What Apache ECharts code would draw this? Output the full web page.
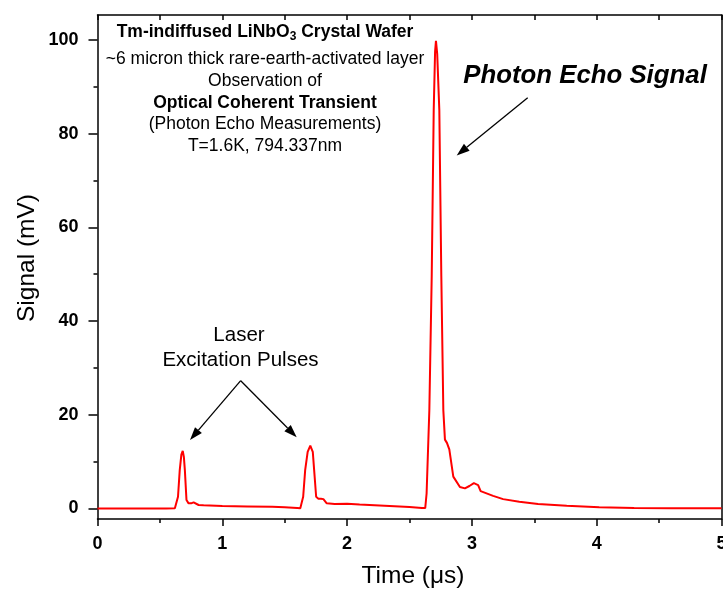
<!DOCTYPE html>
<html>
<head>
<meta charset="utf-8">
<script src="https://cdn.jsdelivr.net/npm/echarts@6/dist/echarts.min.js"></script>
<style>
html,body{margin:0;padding:0;background:#fff;}
#chart{width:723px;height:592px;}
</style>
</head>
<body>
<div id="chart"></div>
<script>
// Time (µs) and Signal (mV)
var timeUs = [
  0.00, 0.20, 0.40, 0.55, 0.62, 0.632, 0.645, 0.659, 0.672, 0.683, 0.692, 0.700, 0.713, 0.730, 0.750, 0.770, 0.786, 0.810, 0.850, 0.950, 1.000, 1.200, 1.400, 1.500, 1.600, 1.625,
  1.632, 1.648, 1.664, 1.684, 1.705, 1.725, 1.736, 1.752, 1.770, 1.790, 1.810, 1.837, 1.900, 2.000, 2.100, 2.300, 2.500, 2.600, 2.626,
  2.637, 2.659, 2.678, 2.694, 2.705, 2.712, 2.722, 2.739, 2.755, 2.771, 2.784, 2.800, 2.819, 2.851, 2.904, 2.944, 2.980, 3.016, 3.050, 3.070, 3.170, 3.250, 3.380, 3.530, 3.760, 4.020, 4.300, 4.600, 5.000
];
var signalMv = [
  0.0, 0.0, 0.0, 0.0, 0.05, 0.2, 2.5, 8.2, 11.5, 12.3, 11.0, 8.2, 1.8, 1.1, 1.1, 1.3, 1.45, 0.75, 0.7, 0.6, 0.55, 0.45, 0.35, 0.25, 0.1, 0.05,
  0.2, 2.5, 8.2, 12.1, 13.4, 12.1, 8.2, 2.5, 2.1, 2.1, 2.0, 1.1, 0.95, 1.0, 0.85, 0.6, 0.3, 0.1, 0.1,
  3.2, 21.0, 49.5, 85.0, 97.5, 99.8, 97.0, 85.0, 49.5, 21.0, 14.7, 14.0, 12.6, 6.8, 4.6, 4.3, 4.8, 5.4, 5.0, 3.7, 2.7, 2.0, 1.45, 0.95, 0.6, 0.25, 0.12, 0.06, 0.04
];
var xTickLabels = [0, 1, 2, 3, 4, 5];
var yMajorTicks = [0, 20, 40, 60, 80, 100];
var yMinorTicks = [10, 30, 50, 70, 90];

var seriesData = timeUs.map(function (t, i) { return [t, signalMv[i]]; });

var FONT = 'Arial, "Liberation Sans", sans-serif';
var chart = echarts.init(document.getElementById('chart'), null, {renderer: 'canvas'});
var axisLineStyle = {color: '#000', width: 1.5};

var option = {
  backgroundColor: '#fff',
  animation: false,
  grid: {left: 97.5, right: 1.5, top: 15, bottom: 73, containLabel: false, outerBoundsMode: 'none'},
  xAxis: [
    {
      type: 'value', min: 0, max: 5, interval: 1, position: 'bottom',
      axisLine: {show: true, onZero: false, lineStyle: axisLineStyle},
      axisTick: {show: true, inside: false, length: 7, lineStyle: {color: '#000', width: 1.5}},
      minorTick: {show: true, splitNumber: 2, length: 4, lineStyle: {color: '#000', width: 1.5}},
      splitLine: {show: false},
      axisLabel: {
        margin: 16, color: '#000', fontFamily: FONT, fontWeight: 'bold', fontSize: 18,
        hideOverlap: false,
        formatter: function (v) { return xTickLabels.indexOf(v) >= 0 ? String(v) : ''; }
      }
    },
    {
      type: 'value', min: 0, max: 5, interval: 0.5, position: 'top',
      axisLine: {show: true, onZero: false, lineStyle: axisLineStyle},
      axisTick: {show: true, inside: true, length: 5, lineStyle: {color: '#000', width: 1.5}},
      splitLine: {show: false},
      axisLabel: {show: false}
    }
  ],
  yAxis: [
    {
      type: 'value', min: -2.24, max: 105.3, position: 'left',
      axisLine: {show: true, onZero: false, lineStyle: axisLineStyle},
      axisTick: {show: true, inside: false, length: 9, customValues: yMajorTicks, lineStyle: {color: '#000', width: 1.5}},
      splitLine: {show: false},
      axisLabel: {
        margin: 19, color: '#000', fontFamily: FONT, fontWeight: 'bold', fontSize: 18,
        customValues: yMajorTicks
      }
    },
    {
      type: 'value', min: -2.24, max: 105.3, position: 'left',
      axisLine: {show: false},
      axisTick: {show: true, inside: false, length: 4, customValues: yMinorTicks, lineStyle: {color: '#000', width: 1.5}},
      splitLine: {show: false},
      axisLabel: {show: false}
    },
    {
      type: 'value', min: -2.24, max: 105.3, position: 'right',
      axisLine: {show: true, onZero: false, lineStyle: axisLineStyle},
      axisTick: {show: false},
      splitLine: {show: false},
      axisLabel: {show: false}
    }
  ],
  series: [
    {
      type: 'line', xAxisIndex: 0, yAxisIndex: 0,
      data: seriesData, showSymbol: false, symbol: 'none',
      lineStyle: {color: '#ff0000', width: 2},
      z: 1
    }
  ]
};
chart.setOption(option);

function arrow(x1, y1, x2, y2) {
  var dx = x2 - x1, dy = y2 - y1, L = Math.sqrt(dx * dx + dy * dy);
  var ux = dx / L, uy = dy / L, hl = 13, hw = 4.5;
  var bx = x2 - ux * hl, by = y2 - uy * hl;
  return [
    {type: 'line', shape: {x1: x1, y1: y1, x2: bx, y2: by}, style: {stroke: '#000', lineWidth: 1.3}, z: 10},
    {type: 'polygon', shape: {points: [[x2, y2], [bx - uy * hw, by + ux * hw], [bx + uy * hw, by - ux * hw]]}, style: {fill: '#000'}, z: 10}
  ];
}
function txt(x, y, text, size, weight, style) {
  return {type: 'text', z: 10, style: {text: text, x: x, y: y, fill: '#000',
    font: (style || 'normal') + ' ' + (weight || 'normal') + ' ' + size + 'px ' + FONT,
    textAlign: 'center', textVerticalAlign: 'middle'}};
}

var g = [];
g.push({
  type: 'text', z: 10,
  style: {
    x: 265, y: 32, textAlign: 'center', textVerticalAlign: 'middle',
    text: '{b|Tm-indiffused LiNbO}{s|3}{b| Crystal Wafer}',
    rich: {
      b: {fontFamily: FONT, fontWeight: 'bold', fontSize: 17.5, fill: '#000', color: '#000'},
      s: {fontFamily: FONT, fontWeight: 'bold', fontSize: 12, fill: '#000', color: '#000', padding: [10, 0, 0, 0]}
    }
  }
});
g.push(txt(265, 59, '~6 micron thick rare-earth-activated layer', 17.5));
g.push(txt(265, 81, 'Observation of', 17.5));
g.push(txt(265, 103, 'Optical Coherent Transient', 17.5, 'bold'));
g.push(txt(265, 124.5, '(Photon Echo Measurements)', 17.5));
g.push(txt(265, 146.5, 'T=1.6K, 794.337nm', 17.5));
g.push(txt(585, 76, 'Photon Echo Signal', 25.8, 'bold', 'italic'));
g.push(txt(239, 335, 'Laser', 20.5));
g.push(txt(240.5, 360, 'Excitation Pulses', 20.5));
g.push(txt(413, 576, 'Time (\u03bcs)', 24.5));
g.push({type: 'text', z: 10, rotation: Math.PI / 2, x: 27, y: 258,
  style: {text: 'Signal (mV)', x: 0, y: 0, fill: '#000', font: 'normal normal 24.5px ' + FONT, textAlign: 'center', textVerticalAlign: 'middle'}});
g = g.concat(arrow(527.7, 97.7, 456.7, 155.5));
g = g.concat(arrow(240.7, 380.7, 190, 440));
g = g.concat(arrow(240.7, 380.7, 296.7, 437.3));
chart.setOption({graphic: g});
</script>
</body>
</html>
